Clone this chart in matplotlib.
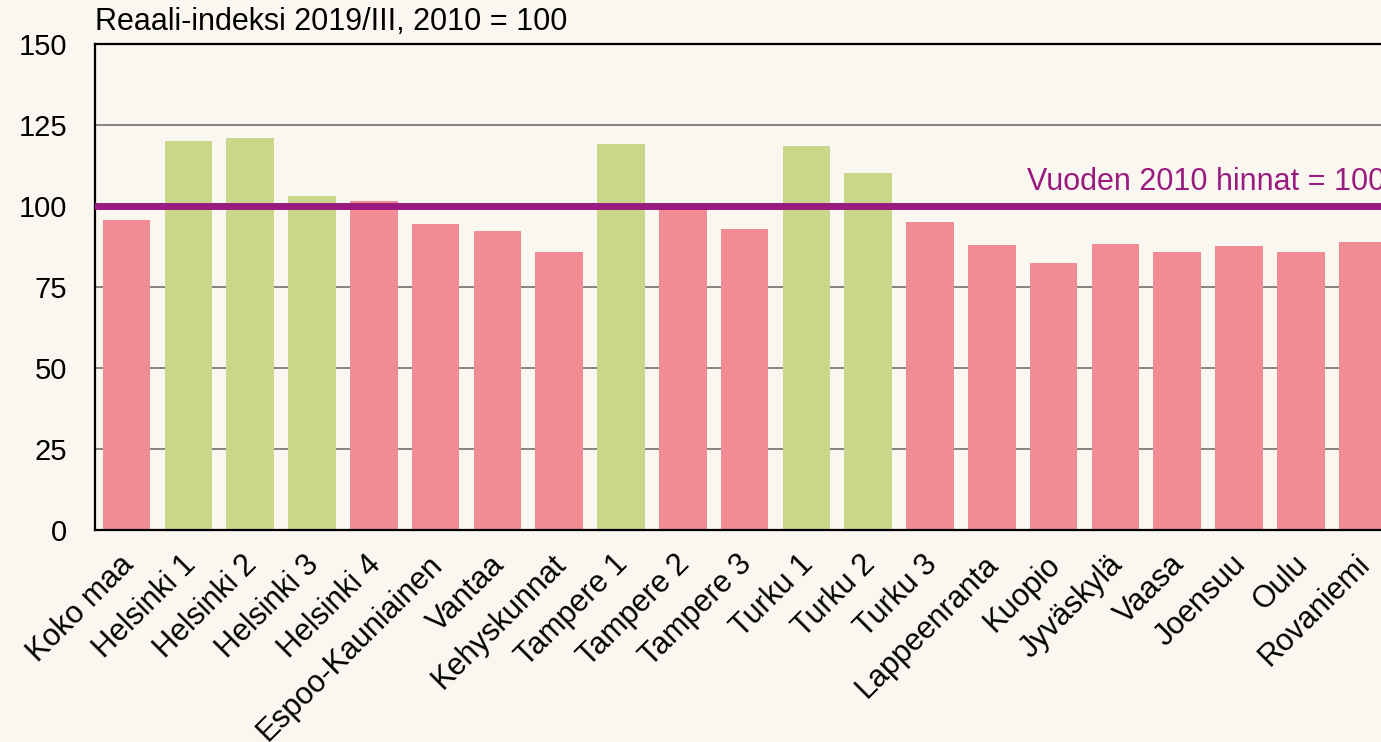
import matplotlib.pyplot as plt
from matplotlib.transforms import ScaledTranslation

# Alueet ja reaali-indeksit (2019/III, 2010 = 100)
alueet = ["Koko maa", "Helsinki 1", "Helsinki 2", "Helsinki 3", "Helsinki 4",
          "Espoo-Kauniainen", "Vantaa", "Kehyskunnat", "Tampere 1", "Tampere 2",
          "Tampere 3", "Turku 1", "Turku 2", "Turku 3", "Lappeenranta", "Kuopio",
          "Jyväskylä", "Vaasa", "Joensuu", "Oulu", "Rovaniemi"]
indeksi = [95.7, 120.1, 121.0, 103.1, 101.6, 94.5, 92.3, 85.9, 119.2, 99.0,
           92.9, 118.6, 110.2, 95.1, 88.1, 82.4, 88.3, 85.9, 87.8, 85.9, 88.8]
nousu = [False, True, True, True, False, False, False, False, True, False,
         False, True, True, False, False, False, False, False, False, False, False]
yticks = [0, 25, 50, 75, 100, 125, 150]

PINK = "#f18c95"
GREEN = "#cad689"
PURPLE = "#9a1b7f"
BG = "#faf6f0"

plt.rcParams["font.family"] = ["Liberation Sans", "DejaVu Sans"]

fig = plt.figure(figsize=(13.81, 7.42), dpi=100, facecolor=BG)
ax = fig.add_axes([95 / 1381, 212 / 742, 1298.5 / 1381, 486 / 742])
ax.set_facecolor(BG)

colors = [GREEN if n else PINK for n in nousu]
ax.bar(range(len(alueet)), indeksi, width=0.77, color=colors, zorder=2)
ax.axhline(100, color=PURPLE, lw=5, zorder=3)
ax.text(14.57, 105, "Vuoden 2010 hinnat = 100", color=PURPLE, fontsize=22,
        ha="left", va="baseline", zorder=4)

ax.set_xlim(-0.51, 20.5)
ax.set_ylim(0, 150)
ax.set_yticks(yticks)
ax.yaxis.grid(True, color="#707070", lw=1.2, zorder=1)
ax.set_axisbelow(True)
ax.tick_params(axis="y", length=0, labelsize=21, pad=20)
ax.tick_params(axis="x", length=0, labelsize=22, pad=14)
ax.set_xticks(range(len(alueet)))
ax.set_xticklabels(alueet, rotation=45, ha="right", rotation_mode="anchor")

# nimiöt hieman vasemmalle kuten alkuperäisessä
siirto = ScaledTranslation(-8 / 100, 0, fig.dpi_scale_trans)
for lab in ax.get_xticklabels():
    lab.set_transform(lab.get_transform() + siirto)

for s in ["left", "bottom", "top"]:
    ax.spines[s].set_linewidth(1.6)
    ax.spines[s].set_color("black")
ax.spines["right"].set_visible(False)

fig.text(95 / 1381, 1 - 22 / 742, "Reaali-indeksi 2019/III, 2010 = 100",
         fontsize=22, ha="left", va="center")

fig.savefig("out.png", dpi=100, facecolor=BG)
